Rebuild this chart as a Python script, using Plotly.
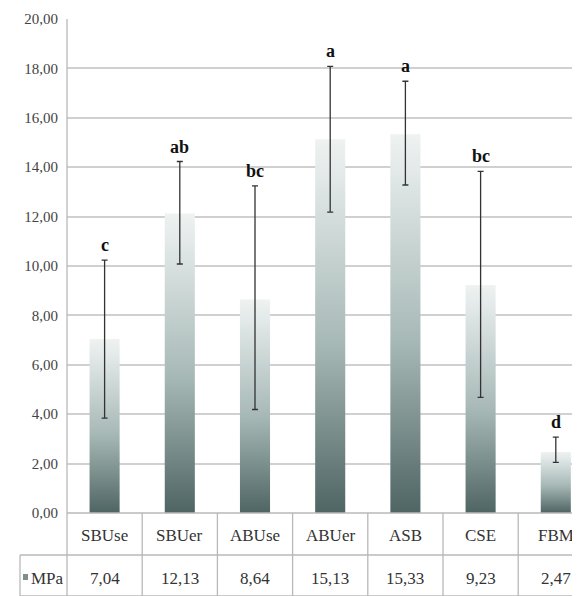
import plotly.graph_objects as go

categories = ["SBUse", "SBUer", "ABUse", "ABUer", "ASB", "CSE", "FBM"]
mpa_values = [7.04, 12.13, 8.64, 15.13, 15.33, 9.23, 2.47]
mpa_labels = ["7,04", "12,13", "8,64", "15,13", "15,33", "9,23", "2,47"]
err_plus = [3.2, 2.1, 4.6, 2.95, 2.15, 4.6, 0.6]
err_minus = [3.2, 2.05, 4.45, 2.95, 2.05, 4.55, 0.42]
letters = ["c", "ab", "bc", "a", "a", "bc", "d"]
series_name = "MPa"

SERIF = "Liberation Serif"

W, H = 580, 596
L, R, T, B = 59, 0, 11, 91
plot_w = W - L - R
plot_h = H - T - B
cat_px = 75.2
x_max = -0.5 + plot_w / cat_px
bar_w = 0.4

def px_to_paper_y(py):
    return (T + plot_h - py) / plot_h

def px_to_paper_x(px):
    return (px - L) / plot_w

fig = go.Figure()

grad = [[0, "#4f6563"], [0.45, "#a6b8b6"], [0.9, "#e2e9e8"], [1, "#eef2f1"]]
for i, v in enumerate(mpa_values):
    fig.add_trace(go.Scatter(
        x=[i - bar_w / 2, i + bar_w / 2, i + bar_w / 2, i - bar_w / 2, i - bar_w / 2],
        y=[0, 0, v, v, 0],
        mode="lines", fill="toself", line=dict(width=0),
        fillgradient=dict(type="vertical", colorscale=grad),
        showlegend=False, hoverinfo="skip"))

fig.add_trace(go.Scatter(
    x=list(range(len(categories))), y=mpa_values, mode="markers",
    marker=dict(size=1, opacity=0), name=series_name,
    error_y=dict(type="data", array=err_plus, arrayminus=err_minus,
                 color="#333333", thickness=1.3, width=3),
    showlegend=False))

for i, (v, ep, lt) in enumerate(zip(mpa_values, err_plus, letters)):
    fig.add_annotation(x=i, y=v + ep, xref="x", yref="y", text=f"<b>{lt}</b>",
                       showarrow=False, yanchor="bottom", yshift=3,
                       font=dict(family=SERIF, size=18, color="#111111"))

# table
y_axis0 = px_to_paper_y(505)
y_row = px_to_paper_y(547)
y_bot = px_to_paper_y(588)
x_left = px_to_paper_x(12)
line_c = "#b8b8b8"
shapes = []
shapes.append(dict(type="line", xref="paper", yref="paper", x0=0, x1=1, y0=y_axis0, y1=y_axis0,
                   line=dict(color=line_c, width=1.3)))
shapes.append(dict(type="line", xref="paper", yref="paper", x0=x_left, x1=1, y0=y_row, y1=y_row,
                   line=dict(color=line_c, width=1.3)))
shapes.append(dict(type="line", xref="paper", yref="paper", x0=x_left, x1=1, y0=y_bot, y1=y_bot,
                   line=dict(color=line_c, width=1.3)))
shapes.append(dict(type="line", xref="paper", yref="paper", x0=0, x1=0, y0=1, y1=y_bot,
                   line=dict(color=line_c, width=1.3)))
shapes.append(dict(type="line", xref="paper", yref="paper", x0=x_left, x1=x_left, y0=y_row, y1=y_bot,
                   line=dict(color=line_c, width=1.3)))
for i in range(len(categories) - 1):
    xp = (i + 1) * cat_px / plot_w
    shapes.append(dict(type="line", xref="paper", yref="paper", x0=xp, x1=xp, y0=y_axis0, y1=y_bot,
                       line=dict(color=line_c, width=1.3)))
# legend key
shapes.append(dict(type="rect", xref="paper", yref="paper",
                   x0=px_to_paper_x(15), x1=px_to_paper_x(20),
                   y0=px_to_paper_y(572), y1=px_to_paper_y(566),
                   fillcolor="#7d8f8d", line=dict(width=0)))

y_txt1 = px_to_paper_y(527)
y_txt2 = px_to_paper_y(570)
for i, (c, lab) in enumerate(zip(categories, mpa_labels)):
    fig.add_annotation(x=i, y=y_txt1, xref="x", yref="paper", text=c, showarrow=False,
                       yanchor="middle", xanchor="center",
                       font=dict(family=SERIF, size=17, color="#333333"))
    fig.add_annotation(x=i, y=y_txt2, xref="x", yref="paper", text=lab, showarrow=False,
                       yanchor="middle", xanchor="center",
                       font=dict(family=SERIF, size=17, color="#333333"))
fig.add_annotation(x=px_to_paper_x(21), y=y_txt2, xref="paper", yref="paper", text=series_name,
                   showarrow=False, xanchor="left", yanchor="middle",
                   font=dict(family=SERIF, size=17, color="#333333"))

fig.update_layout(
    width=W, height=H, margin=dict(l=L, r=R, t=T, b=B),
    paper_bgcolor="white", plot_bgcolor="white",
    separators=", ", shapes=shapes,
    font=dict(family=SERIF),
    xaxis=dict(range=[-0.5, x_max], showticklabels=False, showgrid=False,
               zeroline=False, showline=False, fixedrange=True),
    yaxis=dict(range=[0, 20], dtick=2, tickformat=".2f", showgrid=True,
               gridcolor="#d0d0d0", gridwidth=2, zeroline=False, showline=False,
               ticklabelstandoff=8,
               tickfont=dict(family=SERIF, size=15, color="#444444")),
)

fig.write_html("out.html")
